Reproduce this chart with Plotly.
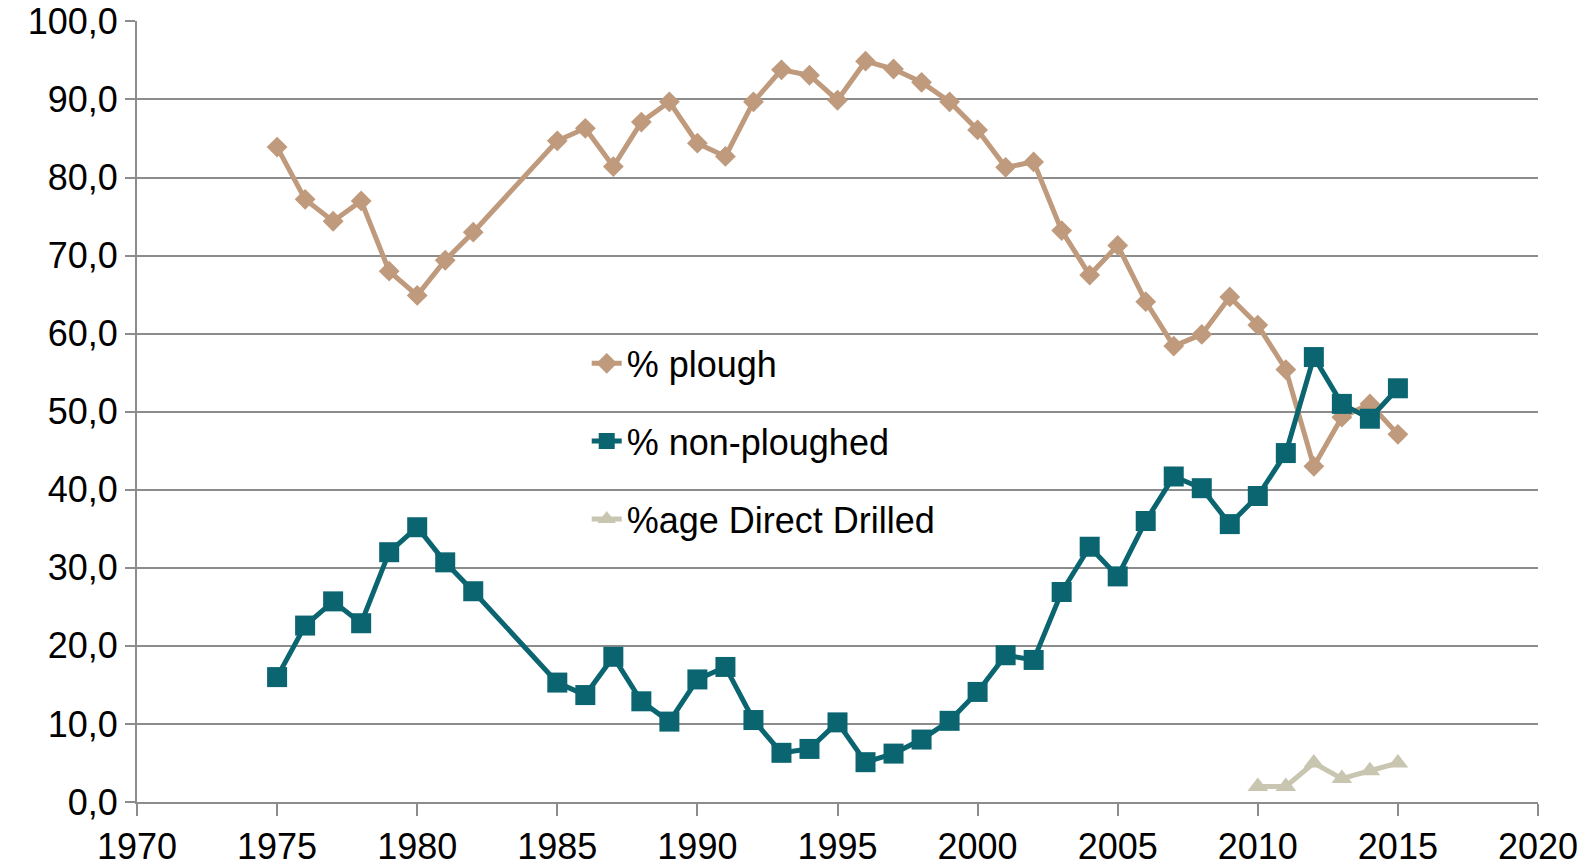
import plotly.graph_objects as go

years = [1975, 1976, 1977, 1978, 1979, 1980, 1981, 1982, 1985, 1986, 1987, 1988, 1989,
         1990, 1991, 1992, 1993, 1994, 1995, 1996, 1997, 1998, 1999, 2000, 2001, 2002,
         2003, 2004, 2005, 2006, 2007, 2008, 2009, 2010, 2011, 2012, 2013, 2014, 2015]
plough = [83.9, 77.2, 74.4, 77.0, 68.0, 64.9, 69.4, 73.0, 84.7, 86.3, 81.4, 87.1, 89.7,
          84.4, 82.7, 89.7, 93.8, 93.1, 89.9, 94.9, 93.9, 92.2, 89.7, 86.1, 81.3, 82.0,
          73.2, 67.5, 71.3, 64.1, 58.4, 59.9, 64.7, 61.1, 55.4, 43.0, 49.3, 51.0, 47.1]
non_ploughed = [16.0, 22.6, 25.7, 22.9, 32.0, 35.2, 30.7, 27.0, 15.3, 13.7, 18.6, 12.9, 10.3,
                15.7, 17.3, 10.5, 6.3, 6.8, 10.2, 5.1, 6.2, 8.0, 10.4, 14.1, 18.8, 18.2,
                26.9, 32.7, 28.9, 36.0, 41.7, 40.2, 35.6, 39.2, 44.7, 57.0, 51.0, 49.1, 53.0]
dd_years = [2010, 2011, 2012, 2013, 2014, 2015]
direct_drilled = [2.0, 2.0, 5.0, 3.0, 4.0, 5.0]

y_ticks = [0, 10, 20, 30, 40, 50, 60, 70, 80, 90, 100]
x_ticks = [1970, 1975, 1980, 1985, 1990, 1995, 2000, 2005, 2010, 2015, 2020]

FONT = "Liberation Sans, Arial, Helvetica, sans-serif"
FS = 36

fig = go.Figure()
fig.add_trace(go.Scatter(
    x=years, y=plough, name="% plough", mode="lines+markers",
    line=dict(color="#BF9A7C", width=5),
    marker=dict(symbol="diamond", size=16, color="#BF9A7C"),
    legendgroup="a"))
fig.add_trace(go.Scatter(
    x=years, y=non_ploughed, name="% non-ploughed", mode="lines+markers",
    line=dict(color="#0A6570", width=5),
    marker=dict(symbol="square", size=20, color="#0A6570"),
    legendgroup="b"))
fig.add_trace(go.Scatter(
    x=dd_years, y=direct_drilled, name="%age Direct Drilled", mode="lines+markers",
    line=dict(color="#C8C5B0", width=5),
    marker=dict(symbol="triangle-up", size=18, color="#C8C5B0"),
    legendgroup="c"))

# page body has an 8px default margin; figure sized so the plot lands where the reference has it
fig.update_layout(
    width=1577, height=859,
    margin=dict(l=129, r=47, t=13, b=65),
    paper_bgcolor="white", plot_bgcolor="white",
    separators=",.",
    font=dict(family=FONT, size=FS, color="black"),
    showlegend=True,
    legend=dict(x=0.321, y=0.60, xanchor="left", yanchor="top",
                bgcolor="rgba(0,0,0,0)", traceorder="grouped", tracegroupgap=28,
                itemsizing="trace",
                font=dict(family=FONT, size=FS, color="black")),
    xaxis=dict(range=[1970, 2020], tickmode="array", tickvals=x_ticks, showgrid=False,
               showline=True, linecolor="#8C8C8C", linewidth=2, automargin=False,
               ticks="outside", ticklen=12, tickcolor="#8C8C8C", tickwidth=2,
               ticklabeloverflow="allow",
               zeroline=False, tickfont=dict(size=FS)),
    yaxis=dict(range=[0, 100.05], tickmode="array", tickvals=y_ticks, tickformat=".1f",
               showgrid=True, gridcolor="#8C8C8C", gridwidth=2, automargin=False,
               showline=True, linecolor="#8C8C8C", linewidth=2,
               ticks="outside", ticklen=10, tickcolor="#8C8C8C", tickwidth=2,
               ticklabeloverflow="allow",
               zeroline=False, tickfont=dict(size=FS)),
)

fig.write_html("out.html")
